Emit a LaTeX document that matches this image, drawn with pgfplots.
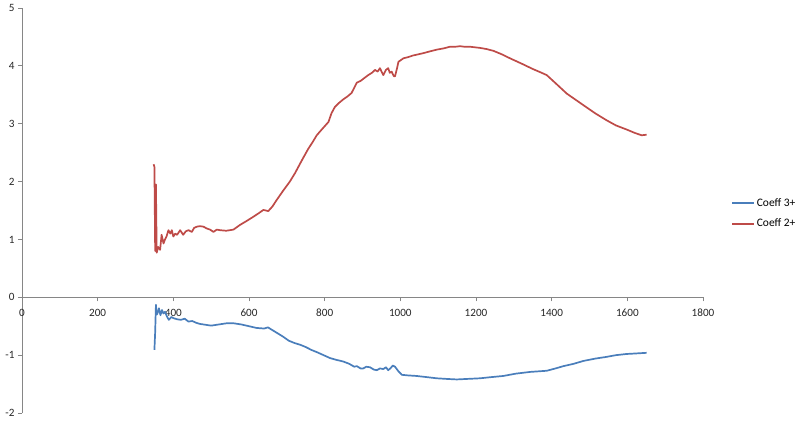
\documentclass[border=0pt]{standalone}
\usepackage{fontspec}
\setmainfont{Carlito}
\usepackage{pgfplots}
\pgfplotsset{compat=1.18}
\definecolor{exblue}{RGB}{74,126,187}
\definecolor{exred}{RGB}{190,75,72}
\definecolor{axgray}{RGB}{134,134,134}

\begin{document}
\begin{tikzpicture}
\begin{axis}[
  name=ax,
  scale only axis, width=681bp, height=405bp,
  xmin=0, xmax=1800, ymin=-2, ymax=5,
  xtick={0,200,...,1800}, ytick={-2,...,5},
  axis x line*=middle, axis y line*=left,
  hide obscured x ticks=false, hide obscured y ticks=false,
  axis line style={axgray, line width=0.8bp},
  tick style={axgray, line width=0.8bp},
  tick align=outside, major tick length=4bp,
  font=\fontsize{11.2}{13}\selectfont,
  ticklabel style={text=black!85},
  xticklabel style={yshift=-4bp},
  /pgf/number format/assume math mode=true,
  /pgf/number format/1000 sep={},
  legend style={draw=none, fill=none, at={(1,0.5)}, anchor=west, xshift=25bp, yshift=-3bp,
    font=\fontsize{11.5}{13}\selectfont, row sep=7bp},
  legend cell align=left,
  legend image code/.code={\draw[#1] (0bp,0bp) -- (22bp,0bp);},
  every axis plot/.append style={line width=1.7bp, line join=round},
]
% Coeff 3+
\addplot[exblue] coordinates {
(350,-0.91)(352,-0.60)(354,-0.13)(356,-0.30)(358,-0.28)(362,-0.19)(366,-0.31)
(370,-0.22)(374,-0.28)(378,-0.25)(383,-0.33)(388,-0.39)(395,-0.34)(400,-0.36)
(410,-0.38)(420,-0.39)(430,-0.37)(440,-0.42)(450,-0.41)(460,-0.44)(470,-0.46)
(480,-0.47)(500,-0.49)(520,-0.47)(540,-0.45)(560,-0.45)(580,-0.47)(600,-0.50)
(620,-0.53)(640,-0.54)(650,-0.52)(660,-0.56)(675,-0.62)(690,-0.68)(705,-0.75)
(720,-0.79)(735,-0.82)(750,-0.86)(765,-0.91)(780,-0.95)(797,-1.00)(814,-1.05)
(830,-1.08)(849,-1.11)(865,-1.15)(878,-1.20)(885,-1.19)(895,-1.23)(902,-1.23)
(910,-1.20)(920,-1.21)(930,-1.25)(938,-1.26)(946,-1.23)(955,-1.24)(962,-1.21)
(968,-1.26)(975,-1.22)(980,-1.18)(986,-1.20)(995,-1.28)(1004,-1.34)(1020,-1.35)
(1043,-1.36)(1070,-1.38)(1096,-1.40)(1120,-1.41)(1149,-1.42)(1180,-1.41)
(1211,-1.40)(1240,-1.38)(1272,-1.36)(1305,-1.32)(1343,-1.29)(1387,-1.27)
(1410,-1.23)(1431,-1.19)(1458,-1.15)(1484,-1.10)(1515,-1.06)(1545,-1.03)
(1570,-1.00)(1598,-0.98)(1625,-0.97)(1651,-0.96)
};
\addlegendentry{Coeff 3+}
% Coeff 2+
\addplot[exred] coordinates {
(348,2.30)(350,2.25)(352,0.80)(354,1.95)(356,0.77)(360,0.87)(365,0.82)(369,1.08)
(374,0.93)(378,1.00)(382,1.05)(387,1.16)(392,1.10)(396,1.16)(400,1.05)(405,1.10)
(410,1.08)(418,1.16)(426,1.08)(433,1.14)(440,1.16)(449,1.13)(455,1.20)(462,1.22)
(470,1.23)(480,1.22)(488,1.19)(497,1.17)(506,1.13)(515,1.17)(523,1.16)(540,1.15)
(559,1.17)(576,1.25)(594,1.32)(611,1.39)(625,1.45)(638,1.51)(651,1.49)(662,1.57)
(673,1.68)(690,1.84)(708,2.00)(722,2.15)(735,2.31)(745,2.43)(757,2.57)(768,2.68)
(779,2.80)(795,2.92)(810,3.03)(818,3.18)(827,3.29)(838,3.36)(849,3.42)(860,3.47)
(871,3.53)(878,3.62)(885,3.71)(895,3.74)(907,3.80)(915,3.84)(925,3.88)(933,3.93)
(940,3.90)(946,3.96)(955,3.84)(962,3.93)(968,3.96)(972,3.88)(977,3.90)(983,3.82)
(986,3.82)(991,3.95)(995,4.07)(1008,4.13)(1020,4.15)(1034,4.18)(1048,4.20)
(1061,4.22)(1078,4.25)(1096,4.28)(1113,4.30)(1131,4.33)(1145,4.33)(1158,4.34)
(1170,4.33)(1185,4.33)(1198,4.32)(1211,4.31)(1228,4.29)(1246,4.26)(1268,4.20)
(1290,4.13)(1320,4.04)(1352,3.94)(1370,3.89)(1387,3.84)(1412,3.69)(1440,3.52)
(1462,3.42)(1484,3.32)(1515,3.18)(1545,3.06)(1570,2.97)(1598,2.90)(1620,2.84)
(1638,2.80)(1651,2.81)
};
\addlegendentry{Coeff 2+}
\end{axis}
\pgfresetboundingbox
\path ([shift={(-22bp,-9bp)}]ax.south west) rectangle ([shift={(97bp,8bp)}]ax.north east);
\end{tikzpicture}
\end{document}
